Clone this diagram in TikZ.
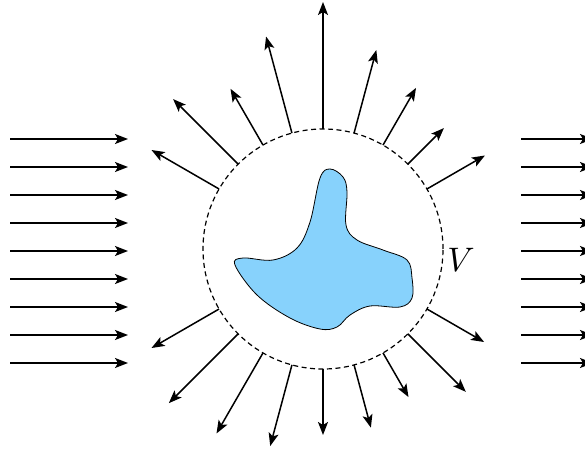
\documentclass[tikz,border=0pt]{standalone}
\usetikzlibrary{arrows.meta}
\definecolor{dropblue}{RGB}{135,210,252}
\tikzset{
  flux/.style={->,line width=1.5pt},
  surface/.style={line width=1.2pt,dash pattern=on 5pt off 3.5pt},
}
\begin{document}
\begin{tikzpicture}[x=1pt,y=1pt,>={Stealth[length=13pt,width=10pt,inset=3pt]}]
  \clip (0,0) rectangle (585,450);
  \coordinate (c) at (323,201);
  % incoming field
  \foreach \k in {0,...,8}
    \draw[flux] (10,311-28*\k) -- (128,311-28*\k);
  % transmitted field
  \foreach \k in {0,...,8}
    \draw[flux] (521,311-28*\k) -- (593,311-28*\k);
  % scattered field
  \foreach \a/\r in {30/187,45/171,60/186,75/206,90/247,105/220,120/185,
      135/212,150/198,210/198,225/218,240/213,255/204,270/186,285/185,
      300/171,315/202,330/186}
    \draw[flux] ([shift={(\a:120pt)}]c) -- ([shift={(\a:\r pt)}]c);
  % volume V
  \draw[surface] (c) circle[radius=120pt];
  \node[scale=3.4] (vlabel) at (461,190) {$V$};
  % scatterer
  \draw[fill=dropblue,line width=0.8pt] plot[smooth cycle,tension=0.6] coordinates {
    (330,281) (343,273) (347,258) (346,225) (357,210) (383,200) (407,190)
    (412,172) (412,152) (400,143) (370,144) (350,135) (337,123) (320,121)
    (290,132) (257,155) (235,185) (243,192) (273,190) (297,202) (310,228)
    (320,272)};
\end{tikzpicture}
\end{document}
